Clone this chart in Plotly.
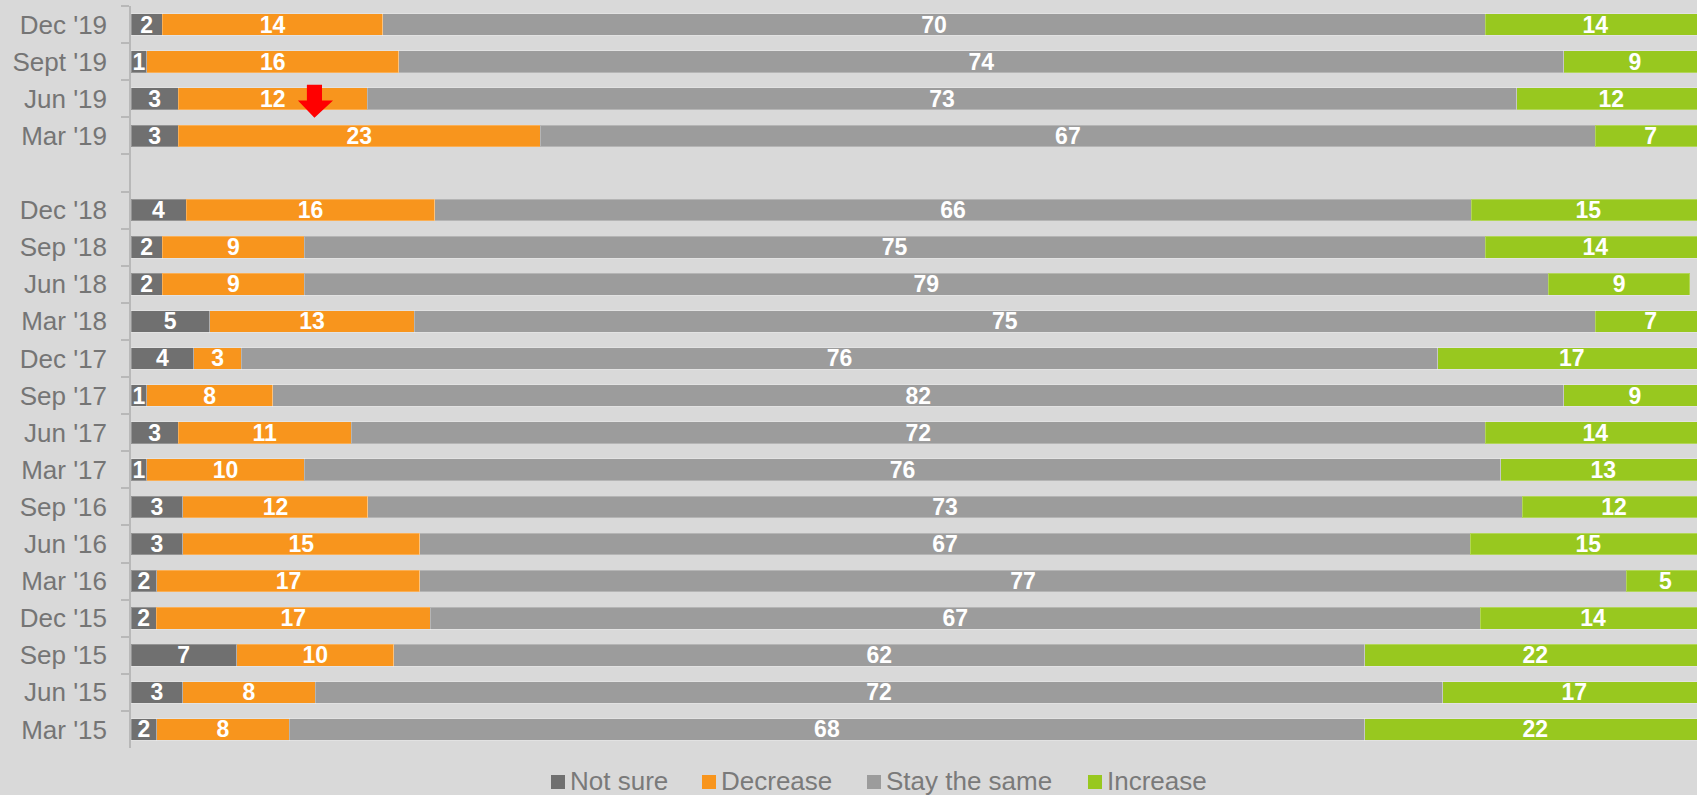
import plotly.graph_objects as go

# survey rounds, top to bottom (" " is the empty spacer row)
periods = ["Dec '19", "Sept '19", "Jun '19", "Mar '19", " ",
           "Dec '18", "Sep '18", "Jun '18", "Mar '18", "Dec '17",
           "Sep '17", "Jun '17", "Mar '17", "Sep '16", "Jun '16",
           "Mar '16", "Dec '15", "Sep '15", "Jun '15", "Mar '15"]

not_sure = [2, 1, 3, 3, None, 3.5, 2, 2, 5, 4, 1, 3, 1, 3.3, 3.3, 1.65, 1.6, 6.7, 3.3, 1.65]
decrease = [14, 16, 12, 23, None, 15.8, 9, 9, 13, 3, 8, 11, 10, 11.75, 15.05, 16.7, 17.4, 10, 8.4, 8.4]
stay_same = [70, 74, 73, 67, None, 65.8, 75, 79, 75, 76, 82, 72, 76, 73.3, 66.7, 76.6, 66.7, 61.65, 71.6, 68.3]
increase = [14, 9, 12, 7, None, 14.9, 14, 9, 7, 17, 9, 14, 13, 11.65, 15, 5, 14.3, 21.65, 16.7, 21.65]

series = [
    ("Not sure", not_sure, "#707070"),
    ("Decrease", decrease, "#F8951D"),
    ("Stay the same", stay_same, "#9C9C9C"),
    ("Increase", increase, "#98C81F"),
]

W, H = 1697, 795
L, R, T, B = 131, 0, 6, 47
PW, PH = W - L - R, H - T - B


def px(x):
    return (x - L) / PW


def py(y):
    return (H - B - y) / PH


fig = go.Figure()

for name, vals, color in series:
    fig.add_trace(go.Bar(
        y=periods, x=vals, name=name, orientation="h",
        marker=dict(color=color, line=dict(color="rgba(255,255,255,0.25)", width=1)),
        texttemplate="%{x:.0f}", textposition="inside",
        insidetextanchor="middle", textangle=0, constraintext="none",
        textfont=dict(family="Liberation Sans", size=23, color="white", weight="bold"),
    ))

# red arrow pointing at the Jun '19 decrease bar
fig.add_shape(
    type="path", xref="x", yref="y",
    path="M 11.17 1.62 L 12.13 1.62 L 12.13 2.05 L 12.83 2.05 L 11.65 2.51 L 10.6 2.05 L 11.17 2.05 Z",
    fillcolor="#FF0000", line=dict(width=0),
)

# legend along the bottom
legend_items = [("Not sure", "#707070", 551), ("Decrease", "#F8951D", 702),
                ("Stay the same", "#9C9C9C", 867), ("Increase", "#98C81F", 1088)]
for label, color, x0 in legend_items:
    fig.add_shape(type="rect", xref="paper", yref="paper",
                  x0=px(x0), x1=px(x0 + 14), y0=py(789), y1=py(775),
                  fillcolor=color, line=dict(width=0))
    fig.add_annotation(text=label, xref="paper", yref="paper",
                       x=px(x0 + 17), y=py(781), xanchor="left", yanchor="middle",
                       showarrow=False,
                       font=dict(family="Liberation Sans", size=26, color="#7a7a7a"))

fig.update_layout(
    width=W, height=H,
    margin=dict(l=L, r=R, t=T, b=B),
    paper_bgcolor="#D9D9D9", plot_bgcolor="#D9D9D9",
    barmode="stack", bargap=0.415,
    showlegend=False,
)
fig.update_xaxes(range=[0, 99.45], visible=False, showgrid=False, zeroline=False)
fig.update_yaxes(
    type="category", categoryorder="array", categoryarray=periods,
    autorange="reversed", showgrid=False, zeroline=False,
    showline=True, linecolor="#B8B8B8", linewidth=1.5,
    ticks="outside", tickson="boundaries", ticklen=8, tickcolor="#B8B8B8", tickwidth=1.5,
    ticklabelstandoff=17,
    tickfont=dict(family="Liberation Sans", size=26, color="#757575"),
)

fig.write_html("out.html", config={"displayModeBar": False},
               post_script="document.body.style.margin='0';document.body.style.overflow='hidden';")
